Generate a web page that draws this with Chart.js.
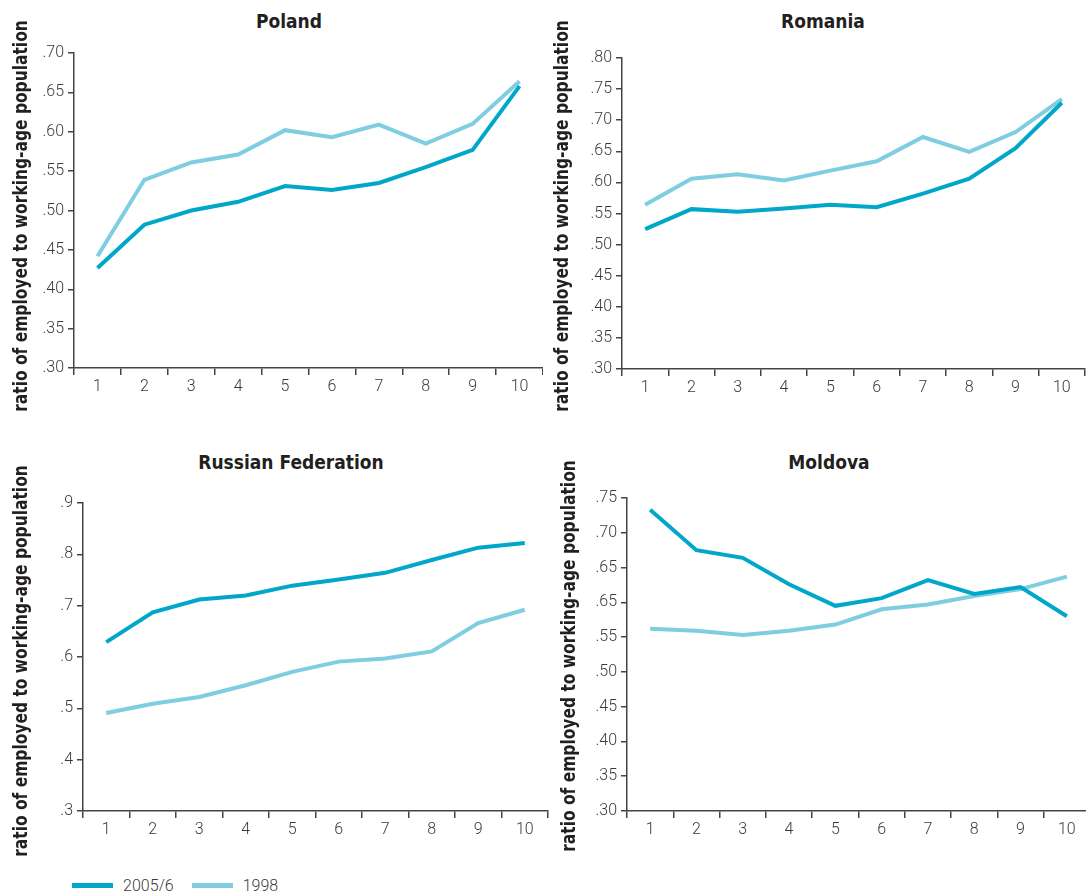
<!DOCTYPE html>
<html>
<head>
<meta charset="utf-8">
<title>Employment ratio by decile</title>
<script src="https://cdn.jsdelivr.net/npm/chart.js@4.4.1/dist/chart.umd.min.js"></script>
<style>
  html, body { margin: 0; padding: 0; background: #fff; }
  body { width: 1086px; height: 891px; overflow: hidden; position: relative; }
  .panel { position: absolute; }
  .panel canvas { display: block; }
  .title {
    position: absolute; transform: translateX(-50%); white-space: nowrap;
    font: bold 19px 'DejaVu Sans Condensed', 'DejaVu Sans', sans-serif; color: #231f20;
  }
  .ytitle {
    position: absolute; white-space: nowrap; line-height: 1;
    font: bold 20px 'DejaVu Sans Condensed', 'DejaVu Sans', sans-serif; color: #231f20;
    transform: translate(-50%, -50%) rotate(-90deg) scaleX(0.86);
  }
  #legend { position: absolute; left: 72px; top: 876px; display: flex; align-items: center;
    font: 300 16px Roboto, 'DejaVu Sans Condensed', sans-serif; color: #3a3a3a; }
  #legend .item { display: flex; align-items: center; margin-right: 18px; }
  #legend .swatch { width: 41px; height: 5px; margin-right: 10px; }
</style>
</head>
<body>
<div class="title" style="left:289px; top:10px;">Poland</div>
<div class="title" style="left:823px; top:10px;">Romania</div>
<div class="title" style="left:291px; top:451px;">Russian Federation</div>
<div class="title" style="left:829px; top:451px;">Moldova</div>

<div class="panel" style="left:0; top:0;"><canvas id="poland" width="543" height="420"></canvas></div>
<div class="panel" style="left:543px; top:0;"><canvas id="romania" width="543" height="420"></canvas></div>
<div class="panel" style="left:0; top:440px;"><canvas id="russia" width="549" height="420"></canvas></div>
<div class="panel" style="left:543px; top:440px;"><canvas id="moldova" width="547" height="420"></canvas></div>

<div class="ytitle" style="left:20px; top:216px;">ratio of employed to working-age population</div>
<div class="ytitle" style="left:561px; top:216px;">ratio of employed to working-age population</div>
<div class="ytitle" style="left:20px; top:661px;">ratio of employed to working-age population</div>
<div class="ytitle" style="left:568px; top:656px;">ratio of employed to working-age population</div>
<div id="legend"></div>

<script>
// Income deciles on the x axis
const deciles = ['1', '2', '3', '4', '5', '6', '7', '8', '9', '10'];
const seriesNames = ['2005/6', '1998'];

// Ratio of employed to working-age population, by decile
const polandRecent  = [0.427, 0.482, 0.500, 0.511, 0.531, 0.526, 0.535, 0.555, 0.577, 0.658];
const poland1998    = [0.442, 0.539, 0.561, 0.571, 0.602, 0.593, 0.609, 0.585, 0.610, 0.664];
const romaniaRecent = [0.525, 0.557, 0.553, 0.558, 0.564, 0.560, 0.582, 0.606, 0.655, 0.728];
const romania1998   = [0.564, 0.606, 0.613, 0.603, 0.619, 0.634, 0.673, 0.649, 0.681, 0.734];
const russiaRecent  = [0.629, 0.687, 0.712, 0.720, 0.739, 0.751, 0.764, 0.789, 0.813, 0.822];
const russia1998    = [0.491, 0.509, 0.522, 0.545, 0.571, 0.591, 0.597, 0.611, 0.666, 0.692];
const moldovaRecent = [0.733, 0.675, 0.664, 0.626, 0.595, 0.606, 0.632, 0.612, 0.622, 0.580];
const moldova1998   = [0.562, 0.559, 0.553, 0.559, 0.568, 0.590, 0.597, 0.609, 0.619, 0.637];

// Y-axis tick labels, bottom to top
const polandTicks  = ['.30', '.35', '.40', '.45', '.50', '.55', '.60', '.65', '.70'];
const romaniaTicks = ['.30', '.35', '.40', '.45', '.50', '.55', '.60', '.65', '.70', '.75', '.80'];
const russiaTicks  = ['.3', '.4', '.5', '.6', '.7', '.8', '.9'];
const moldovaTicks = ['.30', '.35', '.40', '.45', '.50', '.55', '.65', '.65', '.70', '.75'];

const COLOR_RECENT = '#00a7c9';
const COLOR_OLD = '#7fcde0';
const AXIS = '#444444';
const TICK_FONT = { family: "Roboto, 'DejaVu Sans Condensed', sans-serif", size: 16, weight: '300' };

Chart.defaults.color = '#3a3a3a';

function makePanel(id, recent, old, tickLabels, yMin, yStep, box) {
  const canvas = document.getElementById(id);
  const H = canvas.height, W = canvas.width;
  return new Chart(canvas, {
    type: 'line',
    data: {
      labels: deciles,
      datasets: [
        { label: seriesNames[0], data: recent, borderColor: COLOR_RECENT, backgroundColor: COLOR_RECENT },
        { label: seriesNames[1], data: old, borderColor: COLOR_OLD, backgroundColor: COLOR_OLD }
      ]
    },
    options: {
      responsive: false,
      animation: false,
      devicePixelRatio: 1,
      layout: { padding: { top: box.top, right: W - box.right, bottom: 0, left: 0 } },
      elements: {
        line: { borderWidth: 4, tension: 0, borderCapStyle: 'butt', borderJoinStyle: 'miter' },
        point: { radius: 0, hoverRadius: 0 }
      },
      plugins: { legend: { display: false }, tooltip: { enabled: false } },
      scales: {
        x: {
          offset: true,
          grid: { offset: true, drawOnChartArea: false, drawTicks: true, tickLength: 7, color: AXIS, lineWidth: 1.5 },
          border: { display: true, color: AXIS, width: 1.5 },
          ticks: { padding: 2, font: TICK_FONT, color: '#3a3a3a', maxRotation: 0 },
          afterFit: s => { s.height = H - box.bottom; }
        },
        y: {
          min: yMin,
          max: +(yMin + yStep * (tickLabels.length - 1)).toFixed(3),
          grid: { drawOnChartArea: false, drawTicks: true, tickLength: 6, color: AXIS, lineWidth: 1.5 },
          border: { display: true, color: AXIS, width: 1.5 },
          afterBuildTicks: s => {
            s.ticks = tickLabels.map((_, i) => ({ value: +(yMin + i * yStep).toFixed(3) }));
          },
          ticks: {
            padding: 4, font: TICK_FONT, color: '#3a3a3a',
            callback: (v, i) => tickLabels[i]
          },
          afterFit: s => { s.width = box.left; }
        }
      }
    }
  });
}

const charts = [
  makePanel('poland',  polandRecent,  poland1998,  polandTicks,  0.30, 0.05, { left: 74, top: 53, right: 543, bottom: 368 }),
  makePanel('romania', romaniaRecent, romania1998, romaniaTicks, 0.30, 0.05, { left: 79, top: 58, right: 542, bottom: 369 }),
  makePanel('russia',  russiaRecent,  russia1998,  russiaTicks,  0.3,  0.1,  { left: 83, top: 63, right: 548, bottom: 371 }),
  makePanel('moldova', moldovaRecent, moldova1998, moldovaTicks, 0.30, 0.05, { left: 84, top: 58, right: 547, bottom: 371 })
];

// Shared legend, built from the first panel's datasets
const legend = document.getElementById('legend');
charts[0].data.datasets.forEach(ds => {
  const item = document.createElement('div');
  item.className = 'item';
  const sw = document.createElement('span');
  sw.className = 'swatch';
  sw.style.background = ds.borderColor;
  const tx = document.createElement('span');
  tx.textContent = ds.label;
  item.appendChild(sw); item.appendChild(tx);
  legend.appendChild(item);
});
</script>
</body>
</html>
